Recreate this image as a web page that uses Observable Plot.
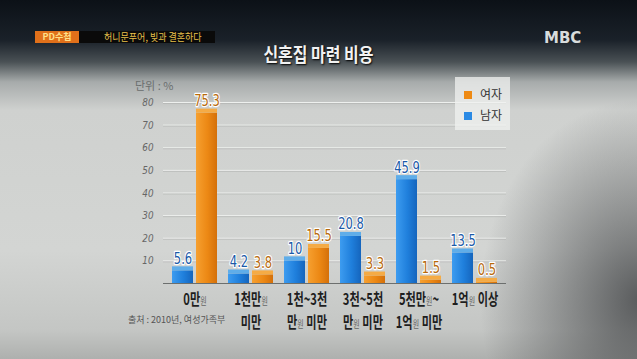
<!DOCTYPE html>
<html>
<head>
<meta charset="utf-8">
<script src="https://cdn.jsdelivr.net/npm/d3@7"></script>
<script src="https://cdn.jsdelivr.net/npm/@observablehq/plot@0.6"></script>
<style>
  html, body { margin: 0; padding: 0; }
  body {
    width: 637px; height: 359px; overflow: hidden; position: relative;
    font-family: "Noto Sans CJK KR", "Noto Sans", sans-serif;
    background:
      radial-gradient(ellipse 160px 200px at 640px 300px, rgba(70,72,74,0.85) 0%, rgba(70,72,74,0) 100%),
      linear-gradient(to bottom, #0c1117 0px, #1a2129 40px, #4a5155 62px, #a7abab 82px, #cfd1cf 110px, #d3d5d3 250px, #c4c6c4 330px, #aeb0ae 359px);
  }
  #chart { position: absolute; left: 0; top: 0; }
  .banner { position: absolute; left: 35px; top: 31px; height: 12px; width: 180px; background: #0a0a0a; }
  .pd { position: absolute; left: 35px; top: 31px; height: 12px; width: 44px; background: #e0701a;
        color: #ffe08a; font-size: 9px; font-weight: bold; line-height: 12px; text-align: center; }
  .sub { position: absolute; left: 104px; top: 30px; color: #e8c04a; font-size: 10px; line-height: 14px; white-space: nowrap;
         transform: scaleX(0.9); transform-origin: left center; }
  .mbc { position: absolute; left: 544px; top: 29px; color: #d8dcdc; font-family: "DejaVu Sans", sans-serif;
         font-weight: bold; font-size: 15px; }
  .title { position: absolute; left: 0; width: 637px; top: 40px; text-align: center; color: #f2f2f2;
           font-size: 19px; font-weight: bold; text-shadow: 1px 1px 2px #000; transform: scaleX(0.84); transform-origin: 318px 50%; }
  .unit { position: absolute; left: 135px; top: 77px; color: #6a6e6e; font-size: 11px; white-space: nowrap; }
  .legend { position: absolute; left: 455px; top: 77px; width: 55px; height: 53px; background: rgba(240,242,240,0.75); }
  .legend .row { position: absolute; left: 9px; font-size: 12px; color: #333; line-height: 14px; white-space: nowrap; }
  .legend .sw { display: inline-block; width: 8px; height: 8px; margin-right: 8px; vertical-align: 0px; }
  .caption { position: absolute; left: 128px; top: 313px; color: #555; font-size: 9px; white-space: nowrap; }
</style>
</head>
<body>
<div class="banner"></div>
<div class="pd">PD수첩</div>
<div class="sub">허니문푸어, 빚과 결혼하다</div>
<div class="mbc">MBC</div>
<div class="title">신혼집 마련 비용</div>
<div class="unit">단위 : %</div>
<div id="chart"></div>
<div class="legend">
  <div class="row" style="top:10px"><span class="sw" style="background:#ee8a14"></span>여자</div>
  <div class="row" style="top:31px"><span class="sw" style="background:#2a8ae4"></span>남자</div>
</div>
<div class="caption">출처 : 2010년, 여성가족부</div>
<script>
const categories = ["0만원", "1천만원 미만", "1천~3천만원 미만", "3천~5천만원 미만", "5천만원~1억원 미만", "1억원 이상"];
const tickLabels = ["0만원", "1천만원\n미만", "1천~3천\n만원 미만", "3천~5천\n만원 미만", "5천만원~\n1억원 미만", "1억원 이상"];
const male = [5.6, 4.2, 10, 20.8, 45.9, 13.5];
const female = [75.3, 3.8, 15.5, 3.3, 1.5, 0.5];
const yTicks = [10, 20, 30, 40, 50, 60, 70, 80];

const maleData = categories.map((c, i) => ({cat: c, value: male[i]}));
const femaleData = categories.map((c, i) => ({cat: c, value: female[i]}));
const labelOf = new Map(categories.map((c, i) => [c, tickLabels[i]]));

const plot = Plot.plot({
  width: 637,
  height: 359,
  marginLeft: 163,
  marginRight: 131,
  marginTop: 102,
  marginBottom: 76,
  style: {background: "transparent", overflow: "visible"},
  x: {domain: categories, paddingInner: 0.2, paddingOuter: 0.16, axis: null, label: null},
  y: {domain: [0, 80], axis: null, label: null},
  marks: [
    Plot.gridY(yTicks, {stroke: "#eef0ee", strokeOpacity: 1, strokeWidth: 1}),
    Plot.gridY(yTicks, {stroke: "#a9acaa", strokeOpacity: 0.5, strokeWidth: 1, dy: 1}),
    Plot.axisY(yTicks, {tickSize: 0, tickPadding: 10, fontSize: 11, fontStyle: "italic", fill: "#666", label: null,
      fontFamily: "'DejaVu Sans', sans-serif"}),
    Plot.barY(maleData, {x: "cat", y: "value", insetRight: 24, fill: "url(#gBlue)"}),
    Plot.barY(femaleData, {x: "cat", y: "value", insetLeft: 24, fill: "url(#gOrange)"}),
    Plot.barY(maleData, {x: "cat", y1: "value", y2: "value", insetTop: -4, insetRight: 24, fill: "#5fade9"}),
    Plot.barY(femaleData, {x: "cat", y1: "value", y2: "value", insetTop: -4, insetLeft: 24, fill: "#f5ab45"}),
    Plot.ruleX([0], {y1: 0, y2: 83, stroke: "#6c6f6e", strokeWidth: 1, dx: -4}),
    Plot.ruleY([0], {stroke: "#6c6f6e", strokeWidth: 1.2}),
    Plot.text(maleData, {x: "cat", y: "value", text: d => String(d.value), dx: -12, dy: -7, lineAnchor: "bottom",
      fill: "#1b5aa8", stroke: "white", strokeWidth: 2.5, fontSize: 16, fontFamily: "'DejaVu Sans', sans-serif"}),
    Plot.text(femaleData, {x: "cat", y: "value", text: d => String(d.value), dx: 12, dy: -7, lineAnchor: "bottom",
      fill: "#b86a0c", stroke: "white", strokeWidth: 2.5, fontSize: 16, fontFamily: "'DejaVu Sans', sans-serif"}),
    Plot.axisX({tickSize: 0, tickPadding: 5, tickFormat: d => labelOf.get(d), fontSize: 16, fontWeight: "bold",
      fill: "#1e1e1e", lineHeight: 1.45, label: null, fontFamily: "'Noto Sans CJK KR', sans-serif"})
  ]
});

const svg = plot.tagName.toLowerCase() === "svg" ? plot : plot.querySelector("svg");
d3.select(svg).insert("defs", ":first-child").html(`
  <linearGradient id="gBlue" x1="0" x2="1" y1="0" y2="0">
    <stop offset="0" stop-color="#3d9cf0"/>
    <stop offset="0.55" stop-color="#1f7fdc"/>
    <stop offset="1" stop-color="#1565bd"/>
  </linearGradient>
  <linearGradient id="gOrange" x1="0" x2="1" y1="0" y2="0">
    <stop offset="0" stop-color="#f6a030"/>
    <stop offset="0.55" stop-color="#ec8814"/>
    <stop offset="1" stop-color="#d4700a"/>
  </linearGradient>`);

// condense text horizontally around each text's own anchor point (the reference uses a narrow typeface)
function condenseTexts(nodes, k) {
  nodes.forEach(t => {
    const x = parseFloat(t.getAttribute("x")) || 0;
    const y = parseFloat(t.getAttribute("y")) || 0;
    const tr = t.getAttribute("transform") || "";
    t.setAttribute("transform", `${tr} translate(${x},${y}) scale(${k},1) translate(${-x},${-y})`);
  });
}
const groups = Array.from(svg.querySelectorAll("g[aria-label]"));
const byLabel = lab => groups.filter(g => g.getAttribute("aria-label") === lab).flatMap(g => Array.from(g.querySelectorAll("text")));
const xTickTexts = byLabel("x-axis tick label");
const yTickTexts = byLabel("y-axis tick label");
const valueTexts = byLabel("text");

// smaller, lighter 원 in the category labels
xTickTexts.forEach(t => {
  const parts = t.querySelectorAll("tspan");
  const targets = parts.length ? Array.from(parts) : [t];
  targets.forEach(el => {
    const s = el.textContent;
    if (!s.includes("원")) return;
    el.textContent = "";
    s.split(/(원)/).forEach(piece => {
      if (!piece) return;
      const sp = document.createElementNS("http://www.w3.org/2000/svg", "tspan");
      sp.textContent = piece;
      if (piece === "원") { sp.setAttribute("font-size", "10"); sp.setAttribute("font-weight", "normal"); sp.setAttribute("fill", "#666"); }
      el.appendChild(sp);
    });
  });
});
condenseTexts(xTickTexts, 0.7);
condenseTexts(yTickTexts, 0.8);
condenseTexts(valueTexts, 0.72);
document.getElementById("chart").appendChild(plot);
</script>
</body>
</html>
